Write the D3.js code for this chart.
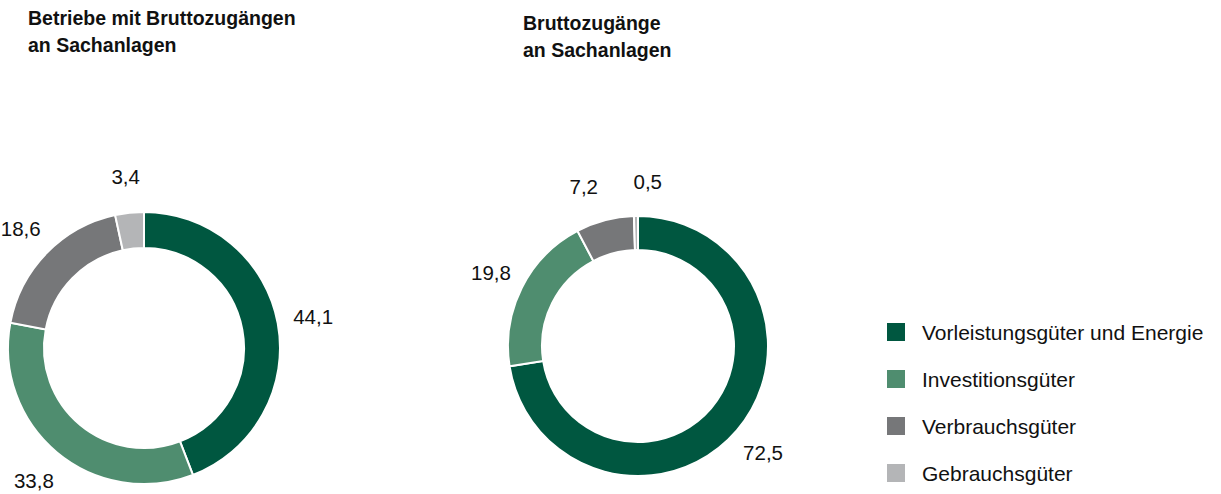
<!DOCTYPE html>
<html>
<head>
<meta charset="utf-8">
<script src="https://cdn.jsdelivr.net/npm/d3@7"></script>
<style>
  body { margin: 0; background: #fff; }
  svg { font-family: "Liberation Sans", Arial, sans-serif; }
</style>
</head>
<body>
<script>
var categories = ["Vorleistungsgüter und Energie", "Investitionsgüter", "Verbrauchsgüter", "Gebrauchsgüter"];
var betriebeValues = [44.1, 33.8, 18.6, 3.4];
var zugaengeValues = [72.5, 19.8, 7.2, 0.5];
var titleLeft = ["Betriebe mit Bruttozugängen", "an Sachanlagen"];
var titleRight = ["Bruttozugänge", "an Sachanlagen"];

var width = 1221, height = 494;

var svg = d3.select("body").append("svg")
    .attr("width", width)
    .attr("height", height);

var color = d3.scaleOrdinal()
    .domain(categories)
    .range(["#005740", "#4f8d6f", "#767779", "#b4b5b7"]);

var fmt = function(v) { return d3.format(".1f")(v).replace(".", ","); };

function title(lines, x, y) {
  var t = svg.append("text")
      .attr("x", x)
      .attr("y", y)
      .attr("font-size", 19.5)
      .attr("font-weight", "bold")
      .attr("fill", "#111");
  t.selectAll("tspan")
      .data(lines)
    .enter().append("tspan")
      .attr("x", x)
      .attr("dy", function(d, i) { return i ? 27 : 0; })
      .text(function(d) { return d; });
}

function donut(values, cx, cy, outerR, innerR) {
  var data = categories.map(function(c, i) { return {name: c, value: values[i]}; });
  var pie = d3.pie().sort(null).value(function(d) { return d.value; });
  var arc = d3.arc().innerRadius(innerR).outerRadius(outerR);
  var labelArc = d3.arc().innerRadius(outerR * 1.265).outerRadius(outerR * 1.265);

  var g = svg.append("g")
      .attr("transform", "translate(" + cx + "," + cy + ")");

  var arcs = pie(data);

  g.selectAll(".slice")
      .data(arcs)
    .enter().append("path")
      .attr("class", "slice")
      .attr("d", arc)
      .attr("fill", function(d) { return color(d.data.name); })
      .attr("stroke", "#fff")
      .attr("stroke-width", 2);

  // label positions, pushed apart a bit when they crowd each other
  var pos = arcs.map(function(d) { return labelArc.centroid(d); });
  for (var k = 0; k < 20; k++) {
    for (var i = 0; i < pos.length; i++) {
      for (var j = i + 1; j < pos.length; j++) {
        var dx = pos[j][0] - pos[i][0], dy = pos[j][1] - pos[i][1];
        if (Math.abs(dy) < 22 && Math.abs(dx) < 64) {
          var push = (64 - Math.abs(dx)) / 2 * (dx < 0 ? -1 : 1);
          pos[i][0] -= push;
          pos[j][0] += push;
        }
      }
    }
  }

  g.selectAll(".label")
      .data(arcs)
    .enter().append("text")
      .attr("class", "label")
      .attr("x", function(d, i) { return pos[i][0]; })
      .attr("y", function(d, i) { return pos[i][1]; })
      .attr("text-anchor", "middle")
      .attr("dominant-baseline", "central")
      .attr("font-size", 20.5)
      .attr("fill", "#111")
      .text(function(d) { return fmt(d.data.value); });
}

title(titleLeft, 28, 25);
title(titleRight, 523, 30);

donut(betriebeValues, 144, 348, 136, 100);
donut(zugaengeValues, 638, 346, 130, 96);

var legend = svg.append("g")
    .attr("transform", "translate(887,323)");

var item = legend.selectAll(".item")
    .data(categories)
  .enter().append("g")
    .attr("class", "item")
    .attr("transform", function(d, i) { return "translate(0," + i * 47 + ")"; });

item.append("rect")
    .attr("width", 18)
    .attr("height", 18)
    .attr("fill", function(d) { return color(d); });

item.append("text")
    .attr("x", 35)
    .attr("y", 9)
    .attr("dominant-baseline", "central")
    .attr("font-size", 21)
    .attr("fill", "#111")
    .text(function(d) { return d; });
</script>
</body>
</html>
